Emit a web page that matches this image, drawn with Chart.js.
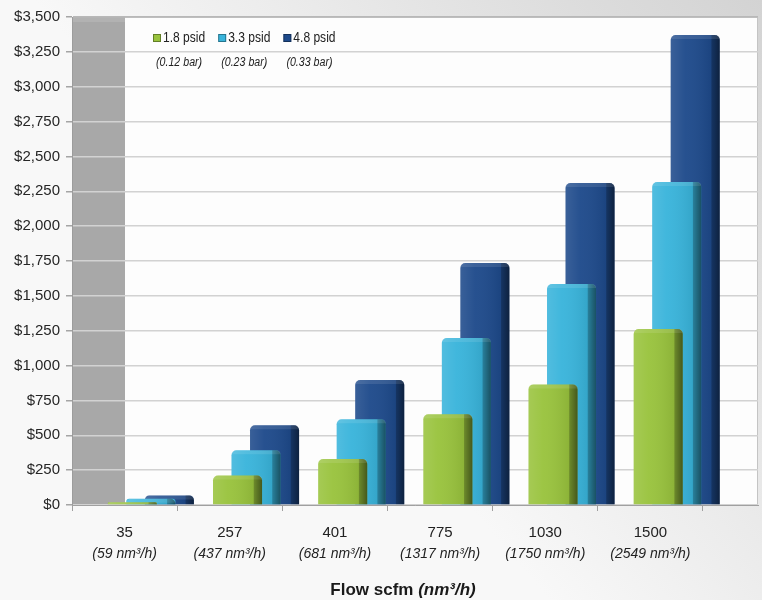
<!DOCTYPE html>
<html>
<head>
<meta charset="utf-8">
<script src="https://cdn.jsdelivr.net/npm/chart.js@4.4.1/dist/chart.umd.min.js"></script>
<style>
html, body { margin: 0; padding: 0; background: #fff; }
</style>
</head>
<body>
<canvas id="grafica" width="762" height="600"></canvas>
<script>
// datos
const categorias = ['35', '257', '401', '775', '1030', '1500'];
const subtitulos = ['(59 nm³/h)', '(437 nm³/h)', '(681 nm³/h)', '(1317 nm³/h)', '(1750 nm³/h)', '(2549 nm³/h)'];
const series = ['1.8 psid', '3.3 psid', '4.8 psid'];
const series_bar = ['(0.12 bar)', '(0.23 bar)', '(0.33 bar)'];
const valores_18 = [20, 212, 330, 650, 865, 1262];
const valores_33 = [45, 393, 615, 1197, 1585, 2317];
const valores_48 = [68, 572, 897, 1736, 2310, 3371];
const y_ticks = [0, 250, 500, 750, 1000, 1250, 1500, 1750, 2000, 2250, 2500, 2750, 3000, 3250, 3500];
const titulo_x = ['Flow scfm ', '(nm³/h)'];

const FUENTE = '"Liberation Sans", Arial, sans-serif';
const colores = ['#99c33d', '#39b4db', '#1e4a8b'];

// en unidades de categoria
const profundidad = 0.523;   // fondo 3D a la derecha
const desplazo = 0.25;        // barras corridas hacia atras

const fondo = {
    id: 'fondo',
    beforeDraw(chart) {
        const { ctx, chartArea: a, width, height } = chart;
        ctx.save();
        let g = ctx.createLinearGradient(width, 0, width * 0.45, height * 0.6);
        g.addColorStop(0, '#d3d3d3');
        g.addColorStop(1, '#f8f8f8');
        ctx.fillStyle = g;
        ctx.fillRect(0, 0, width, height);
        ctx.fillStyle = '#fdfdfd';
        ctx.fillRect(a.left, a.top, a.right - a.left, a.bottom - a.top);
        ctx.strokeStyle = '#c4c4c4';
        ctx.lineWidth = 1;
        ctx.strokeRect(a.left + 0.5, a.top + 0.5, a.right - a.left - 1, a.bottom - a.top);
        // pared lateral gris
        ctx.fillStyle = '#a8a8a8';
        ctx.fillRect(a.left, a.top, 53, a.bottom - a.top);
        ctx.fillStyle = 'rgba(255,255,255,0.12)';
        ctx.fillRect(a.left, a.top, 53, 5);
        ctx.restore();
    }
};

const sombras = {
    id: 'sombras',
    afterDatasetDraw(chart, args) {
        const ctx = chart.ctx;
        const a = chart.chartArea;
        ctx.save();
        ctx.beginPath();
        ctx.rect(a.left, a.top, a.right - a.left, a.bottom - a.top);
        ctx.clip();
        args.meta.data.forEach(bar => {
            const p = bar.getProps(['x', 'y', 'base', 'width'], true);
            const left = p.x - p.width / 2;
            const h = p.base - p.y;
            if (h <= 0) return;
            const g = ctx.createLinearGradient(left, 0, left + p.width, 0);
            g.addColorStop(0, 'rgba(255,255,255,0.12)');
            g.addColorStop(0.3, 'rgba(255,255,255,0.04)');
            g.addColorStop(0.82, 'rgba(0,0,0,0.08)');
            g.addColorStop(0.84, 'rgba(0,0,0,0.30)');
            g.addColorStop(1, 'rgba(0,0,0,0.55)');
            ctx.fillStyle = g;
            const r = Math.min(5, h, p.width / 2);
            ctx.beginPath();
            ctx.roundRect(left, p.y, p.width, h, [r, r, 0, 0]);
            ctx.fill();
            // tapa superior un poco mas clara
            ctx.fillStyle = 'rgba(255,255,255,0.10)';
            ctx.beginPath();
            ctx.roundRect(left, p.y, p.width, Math.min(4, h), [r, r, 0, 0]);
            ctx.fill();
        });
        ctx.restore();
    }
};

// texto angosto (la fuente original es condensada)
function textoAngosto(ctx, s, x, y, esc) {
    ctx.save();
    ctx.translate(x, y);
    ctx.scale(esc, 1);
    ctx.fillText(s, 0, 0);
    ctx.restore();
}

const textos = {
    id: 'textos',
    afterDraw(chart) {
        const { ctx, chartArea: a } = chart;
        ctx.save();
        ctx.textBaseline = 'middle';
        // leyenda
        let xpos = a.left + 81;
        const yc = a.top + 21;
        series.forEach((s, i) => {
            ctx.font = '14px ' + FUENTE;
            const tw = ctx.measureText(s).width * 0.86;
            ctx.fillStyle = colores[i];
            ctx.fillRect(xpos, yc - 4, 8, 8);
            ctx.strokeStyle = 'rgba(0,0,0,0.35)';
            ctx.lineWidth = 1;
            ctx.strokeRect(xpos + 0.5, yc - 3.5, 7, 7);
            ctx.fillStyle = '#222';
            ctx.textAlign = 'left';
            textoAngosto(ctx, s, xpos + 10, yc, 0.86);
            ctx.font = 'italic 12.5px ' + FUENTE;
            ctx.textAlign = 'center';
            textoAngosto(ctx, series_bar[i], xpos + (10 + tw) / 2, yc + 25, 0.85);
            xpos += 10 + tw + 13;
        });
        // titulo del eje x
        ctx.font = 'bold 17px ' + FUENTE;
        const w1 = ctx.measureText(titulo_x[0]).width;
        ctx.font = 'bold italic 17px ' + FUENTE;
        const w2 = ctx.measureText(titulo_x[1]).width;
        const x0 = a.left + 331 - (w1 + w2) / 2;
        ctx.textAlign = 'left';
        ctx.fillStyle = '#1a1a1a';
        ctx.font = 'bold 17px ' + FUENTE;
        ctx.fillText(titulo_x[0], x0, 590);
        ctx.font = 'bold italic 17px ' + FUENTE;
        ctx.fillText(titulo_x[1], x0 + w1, 590);
        ctx.restore();
    }
};

const n = categorias.length;
const limites = categorias.map((c, i) => i - 0.5).concat([n - 0.5]);
const centros = categorias.map((c, i) => i);

function ejeLinealX(extra) {
    return Object.assign({
        type: 'linear',
        position: 'bottom',
        min: -0.5,
        max: n - 0.5 + profundidad,
        offset: false
    }, extra);
}

function puntos(valores) {
    return valores.map((v, i) => ({ x: i, y: v }));
}

const ctx = document.getElementById('grafica');
let grafica = new Chart(ctx, {
    type: 'bar',
    data: {
        datasets: [
            { label: series[0], data: puntos(valores_18), backgroundColor: colores[0], xAxisID: 'xb', yAxisID: 'y' },
            { label: series[1], data: puntos(valores_33), backgroundColor: colores[1], xAxisID: 'xb', yAxisID: 'y' },
            { label: series[2], data: puntos(valores_48), backgroundColor: colores[2], xAxisID: 'xb', yAxisID: 'y' }
        ]
    },
    options: {
        responsive: false,
        animation: false,
        devicePixelRatio: 1,
        layout: { padding: { left: 0, top: 17, right: 4, bottom: 36 } },
        datasets: {
            bar: {
                categoryPercentage: 0.528,
                barPercentage: 2.65,
                borderRadius: 5,
                borderSkipped: 'start'
            }
        },
        plugins: {
            legend: { display: false },
            tooltip: { enabled: false }
        },
        scales: {
            y: {
                min: 0,
                max: 3500,
                afterBuildTicks: ax => { ax.ticks = y_ticks.map(v => ({ value: v })); },
                afterFit: ax => { ax.width = 72; },
                grid: {
                    color: c => (c.tick && c.tick.value === 3500) ? '#b8b8b8' : '#d2d2d2',
                    lineWidth: 1.5, tickLength: 6, tickColor: '#a5a5a5'
                },
                border: { color: '#9c9c9c' },
                ticks: {
                    padding: 6,
                    color: '#262626',
                    font: { family: FUENTE, size: 15 },
                    callback: v => '$' + Number(v).toLocaleString('en-US')
                }
            },
            x: ejeLinealX({
                weight: 0,
                afterBuildTicks: ax => { ax.ticks = limites.map(v => ({ value: v })); },
                afterFit: ax => { ax.height = 6; },
                grid: { offset: false, drawOnChartArea: false, tickLength: 6, color: '#a0a0a0' },
                border: { color: '#a0a0a0' },
                ticks: { display: false }
            }),
            xl: ejeLinealX({
                weight: 1,
                afterBuildTicks: ax => { ax.ticks = centros.map(v => ({ value: v })); },
                afterFit: ax => { ax.height = 27; },
                grid: { display: false, offset: false },
                border: { display: false },
                ticks: {
                    autoSkip: false, maxRotation: 0, padding: 5,
                    color: '#222',
                    font: { family: FUENTE, size: 15 },
                    callback: v => categorias[v]
                }
            }),
            xs: ejeLinealX({
                weight: 2,
                afterBuildTicks: ax => { ax.ticks = centros.map(v => ({ value: v })); },
                afterFit: ax => { ax.height = 26; },
                grid: { display: false, offset: false },
                border: { display: false },
                ticks: {
                    autoSkip: false, maxRotation: 0, padding: 0,
                    color: '#222',
                    font: { family: FUENTE, size: 14, style: 'italic' },
                    callback: v => subtitulos[v]
                }
            }),
            xb: {
                type: 'linear',
                display: false,
                offset: false,
                grid: { offset: false },
                min: -0.5 - desplazo,
                max: n - 0.5 + profundidad - desplazo,
                afterBuildTicks: ax => { ax.ticks = centros.map(v => ({ value: v })); }
            }
        }
    },
    plugins: [fondo, sombras, textos]
});
</script>
</body>
</html>
